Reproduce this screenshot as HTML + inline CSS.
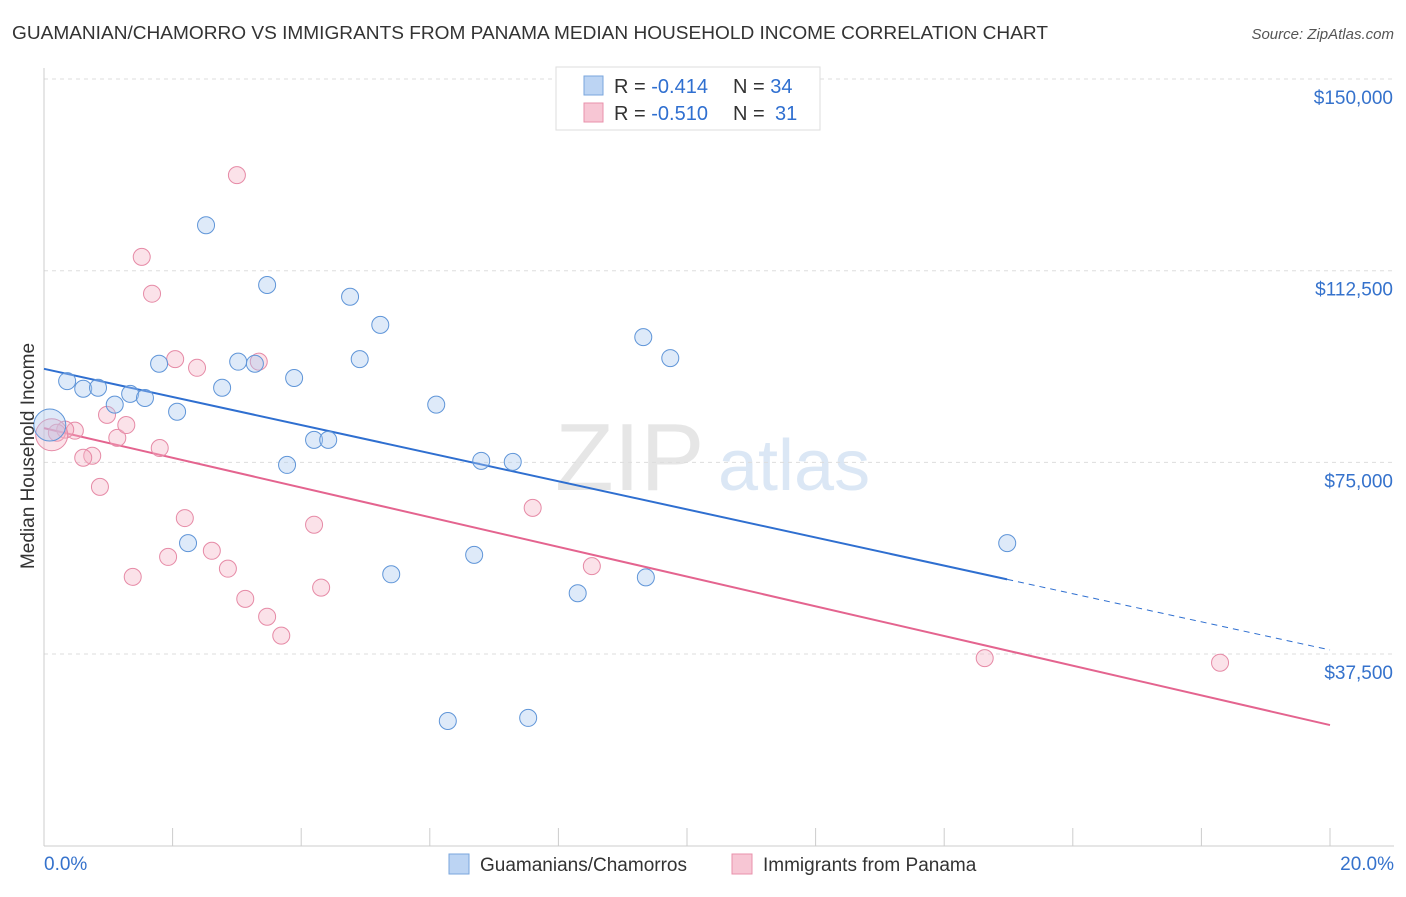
<!DOCTYPE html>
<html><head><meta charset="utf-8"><style>
body{margin:0;background:#fff;font-family:"Liberation Sans",sans-serif;}
svg text{font-family:"Liberation Sans",sans-serif;}
</style></head><body>
<svg id="chart" width="1406" height="892" xmlns="http://www.w3.org/2000/svg">
<text x="12" y="39" font-size="18" fill="#333" textLength="1036" lengthAdjust="spacingAndGlyphs">GUAMANIAN/CHAMORRO VS IMMIGRANTS FROM PANAMA MEDIAN HOUSEHOLD INCOME CORRELATION CHART</text>
<text x="1394" y="39" font-size="15" fill="#555" text-anchor="end" font-style="italic">Source: ZipAtlas.com</text>
<text x="555" y="490" font-size="96" fill="#e6e6e6" font-family="Liberation Serif">ZIP</text>
<text x="718" y="490" font-size="72" fill="#dbe7f5">atlas</text>
<g id="grid"></g>
<g id="axes"></g>
<g id="lines"></g>
<g id="points"></g>
<text transform="translate(34,456) rotate(-90)" font-size="19" fill="#333" text-anchor="middle">Median Household Income</text>
<g>
<rect x="556" y="67" width="264" height="63" fill="#fff" stroke="#ddd"/>
<rect x="584" y="76" width="19" height="19" fill="#bcd4f3" stroke="#7aa6dc"/>
<text x="614" y="93" font-size="20" fill="#333">R = <tspan fill="#2f6fd0">-0.414</tspan></text>
<text x="733" y="93" font-size="20" fill="#333">N = <tspan fill="#2f6fd0">34</tspan></text>
<rect x="584" y="103" width="19" height="19" fill="#f7c6d4" stroke="#e891ab"/>
<text x="614" y="120" font-size="20" fill="#333">R = <tspan fill="#2f6fd0">-0.510</tspan></text>
<text x="733" y="120" font-size="20" fill="#333">N = <tspan fill="#2f6fd0" x="775">31</tspan></text>
</g>
<g>
<rect x="449" y="854" width="20" height="20" fill="#bcd4f3" stroke="#7aa6dc"/>
<text x="480" y="871" font-size="19" fill="#333">Guamanians/Chamorros</text>
<rect x="732" y="854" width="20" height="20" fill="#f7c6d4" stroke="#e891ab"/>
<text x="763" y="871" font-size="19" fill="#333">Immigrants from Panama</text>
</g>
</svg>
<script>
const yTicks=[37500,75000,112500,150000];
const yTickLabels=["$37,500","$75,000","$112,500","$150,000"];
const xTickVals=[0,2,4,6,8,10,12,14,16,18,20];
const blueX=[0.36,0.61,0.84,1.10,1.34,1.57,1.79,2.07,2.24,2.52,2.77,3.02,3.28,3.47,3.89,3.78,4.20,4.42,4.76,4.91,5.23,5.40,6.10,6.28,6.69,6.80,7.29,7.53,8.30,9.32,9.36,9.74,14.98,0.09];
const blueY=[90.9,89.4,89.6,86.3,88.4,87.6,94.3,84.9,59.2,121.4,89.6,94.7,94.3,109.7,91.5,74.5,79.4,79.4,107.4,95.2,101.9,53.1,86.3,24.4,56.9,75.3,75.1,25.0,49.4,99.5,52.5,95.4,59.2,82.3];
const pinkX=[3.00,1.52,1.68,2.04,2.38,3.34,0.98,1.14,1.28,1.80,0.75,0.61,0.48,0.33,0.20,0.87,2.19,1.93,1.38,2.61,2.86,3.13,3.47,3.69,4.20,4.31,7.60,8.52,14.63,18.29,0.12];
const pinkY=[131.2,115.2,108.0,95.2,93.5,94.7,84.3,79.8,82.3,77.8,76.3,75.9,81.2,81.4,80.8,70.2,64.1,56.5,52.6,57.7,54.2,48.3,44.8,41.1,62.8,50.5,66.1,54.7,36.7,35.8,80.4];
const blueTrend=[93.3,-2.75];
const pinkTrend=[81.7,-2.905];
const NS="http://www.w3.org/2000/svg";
const X=p=>44+p*64.3;
const Y=k=>845.7-k*1000/37500*191.67;
function mk(tag,attrs,parent){const e=document.createElementNS(NS,tag);for(const k in attrs)e.setAttribute(k,attrs[k]);document.getElementById(parent).appendChild(e);return e;}
yTicks.forEach((v,i)=>{
 const g=mk('line',{x1:44,x2:1394,y1:Y(v/1000),y2:Y(v/1000),stroke:'#ddd','stroke-dasharray':'4,4'},'grid');
 
 
 const t=mk('text',{x:1393,y:Y(v/1000)+25,'font-size':19,fill:'#3572cc','text-anchor':'end'},'grid');
 t.textContent=yTickLabels[i];
 
 
});
const yl=mk('line',{x1:44,x2:44,y1:68,y2:846,stroke:'#ccc'},'axes');


const xl=mk('line',{x1:44,x2:1394,y1:846,y2:846,stroke:'#ccc'},'axes');


xTickVals.forEach(v=>{
 const t=mk('line',{x1:X(v),x2:X(v),y1:828,y2:846,stroke:'#ccc'},'axes');
 
 
});
const xa=mk('text',{x:44,y:870,'font-size':19,fill:'#3572cc'},'axes');xa.textContent='0.0%';


const xb=mk('text',{x:1394,y:870,'font-size':19,fill:'#3572cc','text-anchor':'end'},'axes');xb.textContent='20.0%';


const bMax=Math.max(...blueX);
const bl=mk('line',{x1:X(0),y1:Y(blueTrend[0]),x2:X(bMax),y2:Y(blueTrend[0]+blueTrend[1]*bMax),stroke:'#2f6fd0','stroke-width':2},'lines');


const bd=mk('line',{x1:X(bMax),y1:Y(blueTrend[0]+blueTrend[1]*bMax),x2:X(20),y2:Y(blueTrend[0]+blueTrend[1]*20),stroke:'#2f6fd0','stroke-width':1,'stroke-dasharray':'6,5'},'lines');


const pl=mk('line',{x1:X(0),y1:Y(pinkTrend[0]),x2:X(20),y2:Y(pinkTrend[0]+pinkTrend[1]*20),stroke:'#e4648f','stroke-width':2},'lines');


function pts(xs,ys,fill,stroke,name){
 xs.forEach((x,i)=>{
  const big=i===xs.length-1;
  const c=mk('circle',{cx:X(x),cy:Y(ys[i]),r:big?16:8.5,fill:fill,'fill-opacity':0.38,stroke:stroke,'stroke-width':1},'points');
  
  
 });
}
pts(pinkX,pinkY,'#f5b3c6','#e68aa6','panama-point');
pts(blueX,blueY,'#a9c8f0','#5f95d8','guamanian-point');
</script>
</body></html>
